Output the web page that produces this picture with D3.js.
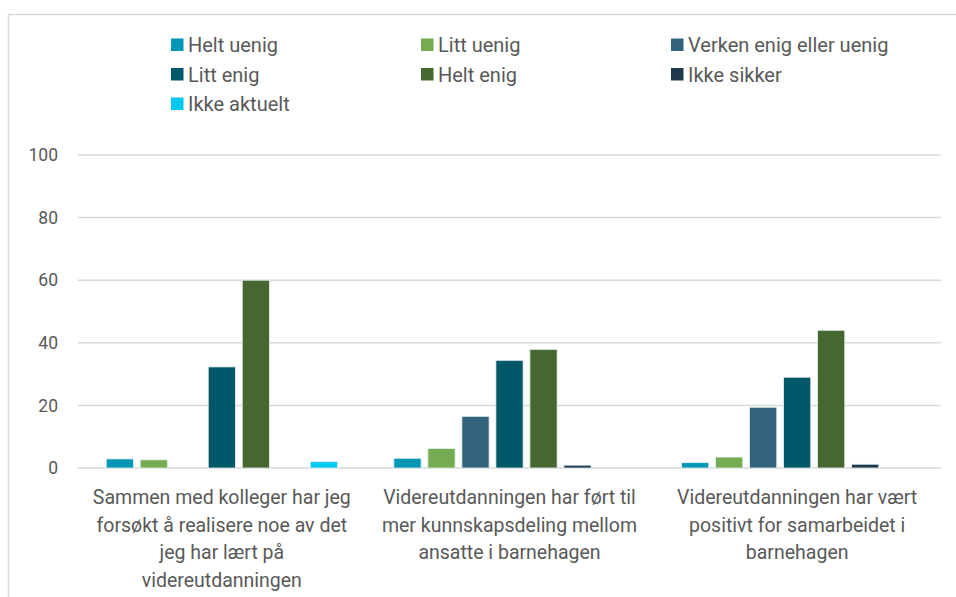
<!DOCTYPE html>
<meta charset="utf-8">
<script src="https://d3js.org/d3.v7.min.js"></script>
<style>
  body { margin: 0; background: #fff; }
  text { font-family: Roboto, "Open Sans", sans-serif; fill: #595959; }
</style>
<div id="chart"></div>
<script>
// data
var categories = [
  "Sammen med kolleger har jeg\nforsøkt å realisere noe av det\njeg har lært på\nvidereutdanningen",
  "Videreutdanningen har ført til\nmer kunnskapsdeling mellom\nansatte i barnehagen",
  "Videreutdanningen har vært\npositivt for samarbeidet i\nbarnehagen"
];
var seriesNames = ["Helt uenig", "Litt uenig", "Verken enig eller uenig", "Litt enig", "Helt enig", "Ikke sikker", "Ikke aktuelt"];
var seriesColors = ["#0096b4", "#76ac51", "#33647e", "#005868", "#46672f", "#1f3a4d", "#00c8f0"];
var heltUenig = [2.9, 3.1, 1.7];
var littUenig = [2.6, 6.2, 3.5];
var verken = [0, 16.5, 19.4];
var littEnig = [32.3, 34.4, 29.0];
var heltEnig = [60.0, 37.9, 44.0];
var ikkeSikker = [0, 0.9, 1.2];
var ikkeAktuelt = [2.0, 0, 0];
var yTicks = [0, 20, 40, 60, 80, 100];

var allSeries = [heltUenig, littUenig, verken, littEnig, heltEnig, ikkeSikker, ikkeAktuelt];

var W = 956, H = 597;
var svg = d3.select("#chart").append("svg")
    .attr("width", W)
    .attr("height", H);

// frame
svg.append("path")
    .attr("d", "M8.5," + H + "V14.5H" + W)
    .attr("fill", "none")
    .attr("stroke", "#d9d9d9")
    .attr("stroke-width", 1.5);

var x0 = d3.scaleBand()
    .domain(categories)
    .range([78, 941]);

var x1 = d3.scaleBand()
    .domain(seriesNames)
    .range([0, x0.bandwidth()])
    .paddingInner(0.2)
    .paddingOuter(0.83);

var y = d3.scaleLinear()
    .domain([0, 100])
    .range([468, 155]);

// gridlines
svg.append("g")
    .selectAll("line")
    .data(yTicks)
    .enter().append("line")
    .attr("x1", 78)
    .attr("x2", 941)
    .attr("y1", function(d) { return y(d); })
    .attr("y2", function(d) { return y(d); })
    .attr("stroke", "#d9d9d9")
    .attr("stroke-width", 1.5);

// y axis
var yAxis = svg.append("g")
    .attr("transform", "translate(63,0)")
    .call(d3.axisLeft(y).tickValues(yTicks).tickSize(0).tickPadding(5));
yAxis.select(".domain").remove();
yAxis.selectAll("text")
    .style("font-size", "17.5px")
    .style("font-family", "Roboto, sans-serif")
    .attr("fill", "#595959");

// bars
var groups = svg.append("g")
    .selectAll("g")
    .data(categories)
    .enter().append("g")
    .attr("transform", function(d) { return "translate(" + x0(d) + ",0)"; });

groups.selectAll("rect")
    .data(function(d, i) {
        return seriesNames.map(function(s, j) { return {name: s, value: allSeries[j][i], color: seriesColors[j]}; });
    })
    .enter().append("rect")
    .attr("x", function(d) { return x1(d.name); })
    .attr("y", function(d) { return y(d.value); })
    .attr("width", x1.bandwidth())
    .attr("height", function(d) { return y(0) - y(d.value); })
    .attr("fill", function(d) { return d.color; })
    .attr("stroke", function(d) { return d.value > 0 ? "#e6eef0" : "none"; })
    .attr("stroke-width", 0.8);

// category labels
categories.forEach(function(c) {
    var t = svg.append("text")
        .attr("text-anchor", "middle")
        .style("font-size", "19.5px");
    c.split("\n").forEach(function(line, k) {
        t.append("tspan")
            .attr("x", x0(c) + x0.bandwidth() / 2)
            .attr("y", 504 + k * 27.5)
            .text(line);
    });
});

// legend
var legend = svg.append("g");
seriesNames.forEach(function(s, i) {
    var col = i % 3, row = Math.floor(i / 3);
    var lx = 171 + col * 250, ly = 45 + row * 29.5;
    legend.append("rect")
        .attr("x", lx)
        .attr("y", ly - 6.5)
        .attr("width", 12.5)
        .attr("height", 12.5)
        .attr("fill", seriesColors[i]);
    legend.append("text")
        .attr("x", lx + 17)
        .attr("y", ly + 7)
        .style("font-size", "20px")
        .text(s);
});
</script>
